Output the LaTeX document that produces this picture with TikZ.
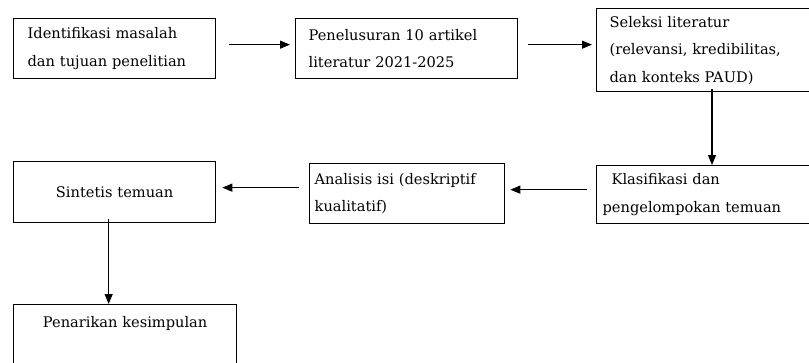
\documentclass[tikz,border=0pt]{standalone}
\usepackage{fontspec}
\setmainfont{DejaVu Serif}
\usetikzlibrary{arrows.meta}

\begin{document}
\begin{tikzpicture}[x=1pt, y=-1pt,
    kotak/.style={draw, line width=1.3pt, anchor=north west, inner ysep=0pt,
      align=left, font=\fontsize{14.6}{27.5}\selectfont},
    panah/.style={-{Triangle[length=10pt,width=8pt]}, line width=1.2pt}]
  \useasboundingbox (0,0) rectangle (809,362);

  \node[kotak, inner xsep=14pt, text width=174pt, minimum height=60pt] (identifikasi) at (13,18)
    {Identifikasi masalah\\dan tujuan penelitian};
  \node[kotak, inner xsep=13pt, text width=196pt, minimum height=60pt] (penelusuran) at (295,18)
    {Penelusuran 10 artikel\\literatur 2021-2025};
  \node[kotak, inner xsep=13pt, text width=204pt, minimum height=83pt] (seleksi) at (596,8)
    {Seleksi literatur\\(relevansi, kredibilitas,\\dan konteks PAUD)};
  \node[kotak, inner xsep=6pt, text width=218pt, minimum height=58pt] (klasifikasi) at (596,165)
    {\hspace*{9pt}Klasifikasi dan\\pengelompokan temuan};
  \node[kotak, inner xsep=5pt, text width=185pt, minimum height=60pt] (analisis) at (309,163)
    {Analisis isi (deskriptif\\kualitatif)};
  \node[kotak, align=center, inner xsep=0pt, text width=202pt, minimum height=61pt] (sintetis) at (13,161)
    {Sintetis temuan};
  \node[kotak, align=center, inner xsep=0pt, text width=223pt, minimum height=62pt] (penarikan) at (13,304)
    {Penarikan kesimpulan\\\mbox{}};

  \coordinate (p1) at ([yshift=4pt]identifikasi.east);
  \coordinate (p2) at ([yshift=4pt]penelusuran.east);
  \coordinate (p3) at ([xshift=116pt,yshift=3pt]seleksi.south west);
  \coordinate (p4) at ([yshift=5pt]klasifikasi.west);
  \coordinate (p5) at ([yshift=6pt]analisis.west);
  \coordinate (p6) at ([xshift=-6pt,yshift=4pt]sintetis.south);

  \draw[panah, shorten <=13pt, shorten >=5pt] (p1) -- (p1 -| penelusuran.west);
  \draw[panah, shorten <=10pt, shorten >=4pt] (p2) -- (p2 -| seleksi.west);
  \draw[panah] (p3) -- (p3 |- klasifikasi.north);
  \draw[panah, shorten <=9pt, shorten >=5pt] (p4) -- (p4 -| analisis.east);
  \draw[panah, shorten <=10pt, shorten >=6pt] (p5) -- (p5 -| sintetis.east);
  \draw[panah] (p6) -- (p6 |- penarikan.north);
\end{tikzpicture}
\end{document}
